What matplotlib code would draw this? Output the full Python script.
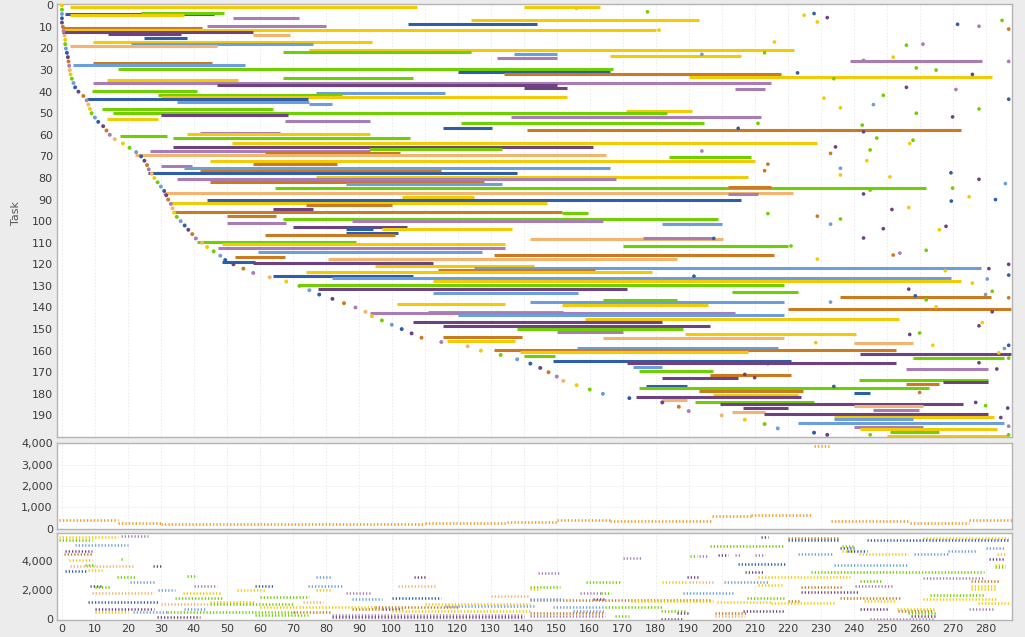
import matplotlib.pyplot as plt

# palette keys used by the task series
COLORS = {
    'Y': '#f2cb05', 'G': '#6fd000', 'LB': '#6c9edb', 'DB': '#2d5ea8',
    'DP': '#6e4280', 'LP': '#a97cb6', 'O': '#cc7a20', 'LO': '#f2b46e',
}

# ---- task bars (row, start, end, colour) ----
bar_task = [0.8, 0.8, 3.9, 3.6, 4.6, 5.7, 7, 8.8, 9.7, 10.7, 11.6, 12.5, 13.2, 13.7, 15.3, 17, 18, 19, 20.8, 21.5,
            22.7, 23.5, 24.5, 26, 26.5, 27.8, 29.3, 31, 32, 33, 33.8, 34.7, 36, 36.8, 38.5, 39, 39.7, 40.6, 41.7, 42.6,
            43.5, 44.8, 45.5, 48, 49, 50, 51, 51.7, 52.8, 53.6, 54.7, 56.8, 57.9, 59, 59.7, 60.6, 61.6, 63.7, 65.6, 66.8,
            67.6, 68.6, 69.5, 70.5, 72, 73.6, 74.5, 75.5, 76.7, 77.6, 79.5, 80.6, 81.8, 82.6, 84.6, 84, 86.9, 87.5, 88.7, 90,
            91.5, 92.6, 94.6, 95.7, 96, 97.7, 98.8, 99.8, 100.8, 101.5, 102.6, 103.7, 103.7, 105.5, 106.5, 108.3, 108, 109.6, 110.5, 111.4,
            112.6, 114.5, 115.7, 116.5, 117.6, 118.8, 119.6, 120.7, 121.6, 122.7, 123.5, 125.5, 126.5, 127.5, 129.6, 131.5, 132.6, 133.5, 135, 136.5,
            137.3, 138.6, 139, 140.6, 142, 142.7, 143.5, 145.5, 146.6, 148.6, 150, 151.5, 152.5, 153.6, 154.3, 155.5, 156.6, 158.6, 159.7, 160.5,
            161.6, 162.5, 163.6, 164.7, 165.6, 167.4, 168.5, 169.4, 171.3, 172.5, 173.6, 174.4, 175.6, 176.4, 177.5, 178.6, 179.5, 180.6, 181.5, 182.7,
            183.6, 184.6, 185.5, 186.4, 187.5, 188.6, 189.5, 190.6, 191.7, 193.4, 195.2, 196.4, 197.8, 199.4]
bar_start = [2.4, 140, 1, 24, 2.5, 52, 124, 105, 44, 0, 0, 0, 14, 58, 25, 9.5, 21, 2.5, 75, 67,
             137, 166, 132, 239, 9.5, 3.4, 17, 120, 134, 190, 67, 13.7, 9.5, 47, 140, 204, 9, 77, 29, 30,
             7.6, 35, 75, 12, 171, 15.5, 30, 136, 13.7, 67.7, 121, 115.6, 141, 42, 38, 17.6, 33.7, 51.6, 33.7, 93,
             26.7, 61.6, 22, 184, 45, 58, 30, 37, 42, 26, 77, 35, 45, 86, 64.6, 202, 30.6, 202, 103, 44,
             33, 74, 64, 33.7, 151.7, 50, 67, 88, 50, 182, 70, 86, 97, 86, 61.6, 142, 176, 41, 48.5, 170,
             47.3, 59.5, 131, 52.5, 80.7, 48.5, 58, 95, 125, 114, 74, 64, 82, 112.6, 72, 77.7, 203, 112.6, 236, 164,
             142, 101.6, 151.7, 220, 111, 93.4, 120, 158.7, 106.5, 115.6, 138, 150, 189, 115.6, 164, 116.8, 240, 156, 131, 139,
             242, 140, 258, 149, 171.4, 173, 256, 175, 196.6, 182, 241.5, 267, 255.8, 177, 174.8, 193, 240, 197.5, 174, 182,
             192, 199.6, 240, 206.6, 246, 203, 212.7, 234, 234, 223, 240, 242, 251, 250]
bar_end = [107.6, 163, 46, 49, 37, 72, 193, 144, 80, 42.5, 180, 58, 36, 69, 38, 94, 76, 47, 222, 124,
           150, 206, 150, 279, 45.5, 55.5, 167, 166, 218, 282, 106.5, 53.4, 215, 150, 153, 213, 41, 116, 85, 153,
           74.6, 75, 82, 64, 191, 183.5, 68.5, 212, 29, 93.5, 194.5, 130.5, 272.5, 66, 93.5, 32, 105.6, 229, 161, 133.5,
           93.5, 102.5, 165, 209, 210, 83.4, 39.5, 166, 115, 138, 208, 168, 128, 133.5, 262, 215, 221.5, 211, 125, 206,
           147, 100, 76, 151.7, 159.6, 65, 199, 164, 68, 200, 104.7, 94.4, 136.5, 102, 101, 200.5, 197, 89, 134.4, 220,
           134.4, 127.4, 216, 67.7, 186.6, 58.6, 112.6, 143, 278.5, 161.7, 179, 106.5, 269.4, 272.5, 219, 171.4, 223, 156.5, 281.5, 186.6,
           219, 134.4, 195.7, 287.6, 152, 204, 219, 253.6, 182, 196.6, 188.4, 170, 240.6, 139.6, 219, 137.4, 258, 217, 252.7, 208,
           287.6, 149.6, 285.5, 221, 252.7, 182, 280.6, 197.5, 221, 205, 280.6, 280.6, 265.8, 189.6, 262.7, 224.5, 245, 223, 224, 189.6,
           228, 273, 261, 220, 259.7, 213, 280.6, 282.5, 258, 285.5, 261, 283.6, 265.8, 286.7]
bar_color = ['Y', 'Y', 'DB', 'G', 'Y', 'LP', 'Y', 'DB', 'LP', 'O', 'Y', 'DP', 'DP', 'LO', 'DB', 'Y', 'LB', 'LO', 'Y', 'G',
             'LB', 'Y', 'LP', 'LP', 'O', 'LB', 'G', 'DB', 'O', 'Y', 'G', 'Y', 'LP', 'DP', 'DP', 'LP', 'G', 'LB', 'G', 'Y',
             'DB', 'LB', 'LB', 'G', 'Y', 'G', 'DP', 'LP', 'Y', 'LP', 'G', 'DB', 'O', 'LP', 'Y', 'G', 'G', 'Y', 'DP', 'G',
             'LP', 'O', 'LO', 'G', 'Y', 'O', 'LP', 'LB', 'O', 'DB', 'Y', 'LP', 'O', 'LB', 'G', 'O', 'LO', 'LP', 'Y', 'DB',
             'Y', 'O', 'DP', 'O', 'G', 'O', 'G', 'LP', 'LP', 'LB', 'DP', 'DB', 'Y', 'DB', 'O', 'LO', 'LP', 'G', 'Y', 'G',
             'LP', 'LB', 'O', 'O', 'LO', 'DB', 'DP', 'Y', 'LB', 'O', 'Y', 'DB', 'LB', 'Y', 'G', 'DP', 'G', 'LB', 'O', 'G',
             'LB', 'Y', 'Y', 'O', 'G', 'LP', 'LB', 'Y', 'DP', 'DP', 'G', 'LP', 'Y', 'O', 'LO', 'Y', 'LO', 'LB', 'O', 'Y',
             'DP', 'G', 'G', 'DB', 'DP', 'LB', 'LP', 'G', 'O', 'DP', 'G', 'DP', 'O', 'DB', 'G', 'O', 'DB', 'Y', 'DP', 'LO',
             'G', 'DP', 'LO', 'DP', 'LP', 'LO', 'DP', 'Y', 'LB', 'LB', 'LP', 'Y', 'G', 'Y']

# ---- task arrival markers along the front ----
arrival_task = [0, 2, 4, 6, 8, 10, 12, 14, 16, 18, 20, 22, 24, 26, 28, 30, 32, 34, 36, 38,
                40, 42, 44, 46, 48, 50, 52, 54, 56, 58, 60, 62, 64, 66, 68, 70, 72, 74, 76, 78,
                80, 82, 84, 86, 88, 90, 92, 94, 96, 98, 100, 102, 104, 106, 108, 110, 112, 114, 116, 118,
                120, 122, 124, 126, 128, 130, 132, 134, 136, 138, 140, 142, 144, 146, 148, 150, 152, 154, 156, 158,
                160, 162, 164, 166, 168, 170, 172, 174, 176, 178, 180, 182, 184, 186, 188, 190, 192, 194, 196, 198, 199]
arrival_time = [0, 0, 0, 0, 0, 0.3, 0.5, 0.8, 1, 1, 1.2, 1.5, 1.8, 2, 2.2, 2.4, 2.6, 3, 3.5, 4,
                5, 6.5, 7.5, 8, 8.5, 9, 10, 11, 12.5, 13.5, 14.5, 16, 18.5, 20.5, 22.5, 24, 25, 25.8, 26.3, 27.2,
                28, 29, 30, 31, 31.6, 32.2, 33, 33.5, 34, 34.8, 36, 37.2, 38.3, 39.5, 40.6, 42.5, 44, 46, 48, 49.5,
                52, 55, 58, 63, 68, 72, 75, 78, 82, 85.5, 89, 92, 94, 97, 100, 103, 106, 109, 115, 123,
                127, 133, 138, 142, 145, 147.5, 150, 152, 156, 160, 164, 172, 182, 187, 190, 200, 207, 213, 217, 228, 232]

# ---- isolated single-step tasks (time, row, colour) ----
point_time = [156, 177.5, 228, 232, 225, 229, 271.5, 278, 285, 287, 216, 256, 261, 181, 194, 213, 252, 243, 287, 259,
              265, 223, 234, 276, 256, 271, 249, 231, 236, 246, 287, 259, 270, 278, 211, 242.6, 205, 243, 247, 258,
              257, 234.5, 245, 233, 194, 244, 214, 213, 236, 236, 269.5, 278, 251, 286, 270, 245, 243, 275, 269.6, 283,
              251.6, 256.7, 214, 229, 236, 233, 249, 268, 266, 243, 262, 252, 254, 229, 221, 197.6, 281, 287, 287, 280.5,
              276, 267.8, 191.6, 256.7, 258.7, 280, 282, 233, 287, 262, 265, 278, 260, 257, 279, 264, 228.5, 285.7, 284, 287,
              278, 283.4, 287, 280, 277, 286.7, 284.6, 287, 287, 214, 210, 207, 234, 260, 282, 245]
point_task = [1.4, 3, 3.8, 5.7, 4.6, 7.7, 8.8, 9.7, 7, 11, 17, 18.5, 18, 11.5, 22.7, 22, 24, 25.5, 26, 29,
              30, 31.3, 34, 32, 38, 39, 41.7, 43, 47.5, 46, 43.5, 50, 51.7, 48, 54.7, 55.5, 57, 58.6, 61.5, 62.5,
              64, 65.6, 67, 68.6, 67.5, 72, 73.6, 76.6, 75.5, 78.6, 77.6, 80.6, 79.5, 82.6, 84.7, 85.6, 87.4, 88.7, 90.7, 90,
              94.6, 93.7, 96.5, 97.7, 99, 101.4, 103.5, 102.4, 104, 107.8, 113.5, 115.7, 114.8, 117.6, 111.5, 108, 122, 120, 125, 126.8,
              128.7, 123, 125.5, 131.5, 134.6, 134, 132.5, 137.5, 135.5, 136.5, 139.7, 148.5, 151.8, 152.5, 147, 157.5, 156.3, 159, 161, 157.5,
              165.6, 168.5, 163.5, 185.5, 184, 186.6, 191, 195, 199, 166, 172.5, 171, 176.6, 179.4, 142, 199]
point_color = ['Y', 'G', 'DB', 'DP', 'Y', 'Y', 'DB', 'LP', 'G', 'O', 'Y', 'G', 'LP', 'Y', 'LB', 'G', 'Y', 'LP', 'LP', 'G',
               'G', 'DB', 'G', 'DP', 'DP', 'LP', 'G', 'Y', 'Y', 'LB', 'DB', 'G', 'DP', 'G', 'G', 'G', 'DB', 'DP', 'G', 'G',
               'Y', 'DP', 'G', 'O', 'LP', 'Y', 'O', 'O', 'LB', 'Y', 'DB', 'DP', 'Y', 'LB', 'G', 'G', 'DP', 'Y', 'DB', 'DB',
               'DP', 'Y', 'G', 'O', 'G', 'LB', 'DP', 'DP', 'Y', 'DP', 'G', 'O', 'LP', 'Y', 'G', 'DB', 'DP', 'DP', 'DB', 'LB',
               'Y', 'Y', 'DB', 'DP', 'DB', 'LB', 'G', 'LB', 'O', 'G', 'Y', 'DP', 'G', 'DP', 'Y', 'Y', 'Y', 'LB', 'Y', 'DB',
               'DP', 'DP', 'G', 'G', 'DP', 'DP', 'DP', 'LP', 'G', 'DP', 'DP', 'DP', 'DB', 'O', 'DP', 'G']

# ---- middle panel: single orange series (start, end, value) ----
mid_start = [-1, 17, 30, 60, 110, 135, 150, 166, 197, 209, 228, 233, 257, 275]
mid_end = [17, 30, 60, 110, 135, 150, 166, 197, 209, 227, 233, 257, 275, 288]
mid_value = [410, 280, 220, 235, 270, 330, 400, 345, 610, 660, 3860, 375, 280, 410]

# ---- bottom panel runs (start, end, value, colour) ----
low_start = [-1, 18, -1, 4, 1, 0.5, 2, 18, 2.5, 7, 27.7, 8, 1, 16.7, 38, 20.6, 77, 106.6, 8.6, 10,
             58.6, 40, 74.6, 102, 29, 53, 77, 9, 36.7, 86, 34.3, 100, 87.8, 8, 45, 73, 116, 10, 37, 97,
             88, 21.6, 32, 10, 70, 58.6, 82, 28.7, 82, 30, 45, 60, 95, 110, 100, 130, 60,
             212, 220, 261, 220, 244, 196.6, 236.6, 236, 280, 238, 236.6, 268.5, 223, 241.5, 258.4, 283.4, 199, 204, 210,
             190.5, 193, 170, 281, 234, 205, 283, 283, 227, 207, 144.4, 211, 189.6, 261, 242, 275.6, 159, 200.6, 182, 190,
             211, 240.5, 275.6, 142, 224, 142, 275.6, 224, 188.4, 157, 163.5, 263, 207.8, 236, 261, 142, 142, 161, 172.5, 220,
             243, 198.7, 215, 277.6, 149, 164.5, 242, 253, 275, 206.6, 253.4, 181.6, 155, 142, 186.5, 198, 256.4, 142, 167.7, 198,
             257.4, 245, 181.6]
low_end = [17, 26, 9, 20, 9, 9, 9, 18.6, 22, 10, 30, 12, 7.6, 22, 41, 28, 82, 110, 12, 14.7,
           64, 47, 85, 113, 34.3, 62, 82, 28, 48.5, 93.8, 48.5, 115, 97, 29, 58.6, 79, 143.5, 28, 43.6, 103,
           97, 32, 71, 20, 82, 74.6, 140, 41.8, 140, 45, 70, 95, 120, 142, 142, 142, 75,
           214, 236, 286.7, 236, 286.7, 219, 240, 240, 286, 244, 240, 277, 233.6, 256.4, 268.5, 286, 202, 206, 213,
           192.5, 195.4, 175.4, 286, 256.4, 219.4, 286, 286, 279.5, 212.5, 151, 239, 193, 279.5, 248.6, 284, 169.3, 214, 189.6, 198,
           218.5, 251.6, 283.4, 151, 236.4, 145, 283, 241.5, 203.6, 163.5, 166.5, 279.5, 219, 254.2, 283.6, 197, 152, 164.5, 197.5, 224,
           252.5, 214.8, 234.4, 287, 164.5, 182, 250.3, 264.5, 283, 219, 264.5, 189.6, 164.6, 164.6, 190.5, 207.8, 265, 164.6, 172, 207,
           265, 264.4, 188.4]
low_value = [5680, 5700, 5450, 5100, 4710, 4480, 4070, 4150, 3680, 3700, 3680, 3380, 3300, 2920, 2950, 2570, 2900, 2900, 2280, 2200,
             2300, 2300, 2250, 2250, 2000, 2000, 2000, 1770, 1770, 1770, 1430, 1430, 1400, 1200, 1200, 1200, 900, 690, 690, 690,
             690, 460, 460, 450, 460, 280, 280, 120, 120, 1050, 1050, 800, 800, 1000, 550, 1600, 1500,
             5680, 5590, 5590, 5450, 5450, 5030, 5030, 4900, 4900, 4710, 4710, 4700, 4460, 4460, 4460, 4460, 4400, 4400, 4400,
             4330, 4330, 4190, 4150, 3720, 3800, 3720, 3560, 3260, 3260, 3200, 2870, 2870, 2840, 2640, 2640, 2530, 2530, 2530, 2530,
             2350, 2280, 2280, 2190, 2190, 2050, 2050, 1880, 1770, 1770, 1770, 1660, 1430, 1430, 1380, 1310, 1380, 1350, 1250, 1240,
             1240, 1150, 1100, 1100, 800, 800, 690, 690, 690, 570, 570, 570, 570, 390, 390, 390, 390, 230, 230, 230,
             230, 20, 20]
low_color = ['Y', 'LP', 'G', 'LB', 'DP', 'O', 'Y', 'G', 'LO', 'G', 'DP', 'Y', 'DB', 'G', 'G', 'LB', 'LB', 'DP', 'DP', 'G',
             'DB', 'LP', 'LB', 'LO', 'LB', 'Y', 'Y', 'LO', 'Y', 'LP', 'G', 'DB', 'LB', 'DB', 'Y', 'LO', 'LB', 'DP', 'LB', 'DP',
             'O', 'LB', 'G', 'Y', 'O', 'G', 'LP', 'DP', 'DP', 'LO', 'G', 'Y', 'O', 'Y', 'Y', 'LO', 'G',
             'DP', 'O', 'Y', 'DB', 'DB', 'G', 'G', 'DB', 'LB', 'DB', 'Y', 'LB', 'LB', 'Y', 'LB', 'Y', 'DP', 'LP', 'LP',
             'G', 'LP', 'LP', 'DP', 'LB', 'DB', 'Y', 'G', 'G', 'DP', 'LP', 'Y', 'DP', 'LP', 'G', 'O', 'G', 'LB', 'Y', 'LO',
             'Y', 'LP', 'Y', 'G', 'O', 'Y', 'Y', 'DP', 'LB', 'LP', 'G', 'G', 'G', 'O', 'Y', 'O', 'LB', 'DP', 'Y', 'O',
             'Y', 'Y', 'Y', 'Y', 'LB', 'G', 'DP', 'Y', 'LP', 'DP', 'O', 'G', 'LB', 'O', 'DP', 'O', 'G', 'LP', 'G', 'LO',
             'DP', 'LP', 'DP']

palette_cycle = ['Y', 'G', 'LB', 'DB', 'DP', 'O', 'LP', 'LO']

fig = plt.figure(figsize=(10.25, 6.37), dpi=100, facecolor='#ececec')
ax_top = fig.add_axes([0.0556, 0.314, 0.9317, 0.679])
ax_mid = fig.add_axes([0.0556, 0.1695, 0.9317, 0.1355])
ax_low = fig.add_axes([0.0556, 0.0267, 0.9317, 0.1365])

xticks = list(range(0, 290, 10))
for ax in (ax_top, ax_mid, ax_low):
    ax.set_facecolor('white')
    ax.set_xlim(-1.5, 288)
    ax.set_xticks(xticks)
    for sp in ax.spines.values():
        sp.set_color('#b4b4b4')
        sp.set_linewidth(1.0)
    ax.tick_params(length=0, labelsize=8, colors='#3a3a3a', pad=3)
    ax.grid(axis='x', color='#e9e9e9', lw=0.6, ls=(0, (2, 2)))
    ax.set_axisbelow(True)

# task gantt view
ax_top.set_ylim(200, -0.4)
ax_top.set_yticks(range(0, 200, 10))
ax_top.tick_params(labelbottom=False)
ax_top.hlines(bar_task, bar_start, bar_end, colors=[COLORS[c] for c in bar_color], lw=2.2)
ax_top.scatter(arrival_time, arrival_task, s=8,
               c=[COLORS[palette_cycle[i % len(palette_cycle)]] for i in range(len(arrival_task))], lw=0, zorder=3)
ax_top.scatter(point_time, point_task, s=7, c=[COLORS[c] for c in point_color], lw=0, zorder=3)

# single resource profile
dots = (0, (0.5, 0.8))
ax_mid.set_ylim(-20, 4020)
ax_mid.set_yticks([0, 1000, 2000, 3000, 4000])
ax_mid.set_yticklabels(['0', '1,000', '2,000', '3,000', '4,000'])
ax_mid.tick_params(labelbottom=False)
ax_mid.grid(axis='y', color='#f2f2f2', lw=0.6)
ax_mid.hlines(mid_value, mid_start, mid_end, colors='#f39c2a', lw=1.9, linestyles=dots)

# multi resource profiles
ax_low.set_ylim(-70, 5930)
ax_low.set_yticks([0, 2000, 4000])
ax_low.set_yticklabels(['0', '2,000', '4,000'])
ax_low.hlines(low_value, low_start, low_end, colors=[COLORS[c] for c in low_color], lw=1.8, linestyles=dots)

fig.text(0.011, 0.665, 'Task', rotation=90, fontsize=8, color='#555555', va='center')

fig.savefig('out.png', dpi=100, facecolor=fig.get_facecolor())
